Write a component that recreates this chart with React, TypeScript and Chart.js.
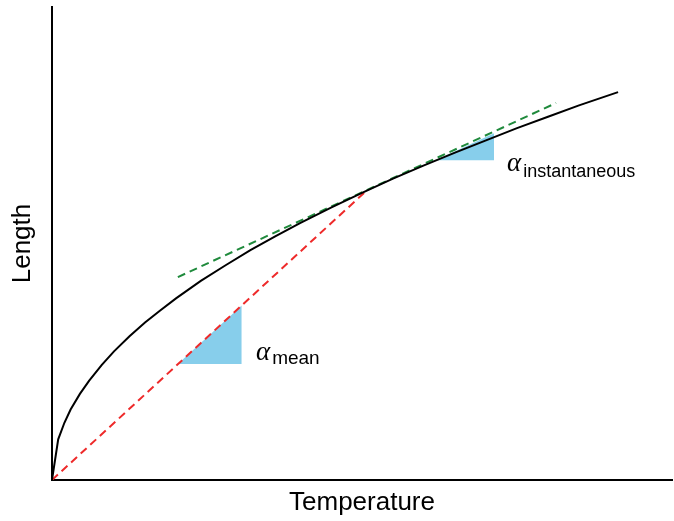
import React, { useEffect, useRef } from "react";
import { Chart, registerables } from "chart.js";

Chart.register(...registerables);

// Expansion curve (Temperature vs Length)
const curveX = [0, 0.1, 0.2, 0.3, 0.45, 0.6, 0.8, 1, 1.25, 1.5, 1.75, 2, 2.4, 2.8, 3.2, 3.6, 4, 4.5, 5, 5.5, 6, 6.5, 7, 7.5, 8, 8.5, 9.13];
const curveY = [0, 0.86, 1.21, 1.49, 1.82, 2.1, 2.43, 2.72, 3.04, 3.33, 3.59, 3.84, 4.21, 4.54, 4.86, 5.15, 5.43, 5.76, 6.07, 6.37, 6.65, 6.92, 7.18, 7.44, 7.68, 7.92, 8.2];

// Secant (mean) line from origin to the curve point
const meanX = [0, 5.05];
const meanY = [0, 6.09];

// Tangent (instantaneous) line
const tangentX = [2.03, 8.13];
const tangentY = [4.29, 7.97];

// Slope triangles: hypotenuse end points and base level
const meanTriX = [2.03, 3.06];
const meanTriY = [2.45, 3.69];
const meanTriBase = 2.45;
const instTriX = [6.19, 7.13];
const instTriY = [6.76, 7.33];
const instTriBase = 6.76;

// Annotation labels (anchor in data units)
const labelMain = ["\u03b1", "\u03b1"];
const labelSub = ["mean", "instantaneous"];
const labelX = [3.29, 7.34];
const labelY = [2.54, 6.53];

const xTitle = "Temperature";
const yTitle = "Length";

const toPts = (xs: number[], ys: number[]) => xs.map((x, i) => ({ x, y: ys[i] }));

const labelPlugin = {
  id: "alphaLabels",
  afterDatasetsDraw(chart: any) {
    const { ctx, scales } = chart;
    ctx.save();
    ctx.fillStyle = "#000";
    ctx.textBaseline = "alphabetic";
    ctx.textAlign = "left";
    const subSize = [19, 18];
    const subDrop = [4, 6];
    for (let i = 0; i < labelMain.length; i++) {
      const px = scales.x.getPixelForValue(labelX[i]);
      const py = scales.y.getPixelForValue(labelY[i]);
      ctx.font = "italic 27px 'Liberation Serif'";
      ctx.fillText(labelMain[i], px, py);
      const w = ctx.measureText(labelMain[i]).width;
      ctx.font = `${subSize[i]}px 'Liberation Sans'`;
      ctx.fillText(labelSub[i], px + w + 2, py + subDrop[i]);
    }
    ctx.restore();
  },
};

export default function App() {
  const ref = useRef<HTMLCanvasElement | null>(null);

  useEffect(() => {
    if (!ref.current) return;
    const chart = new Chart(ref.current, {
      type: "line",
      data: {
        datasets: [
          {
            data: toPts(curveX, curveY),
            borderColor: "#000000",
            borderWidth: 2,
            pointRadius: 0,
            tension: 0,
            fill: false,
            order: 0,
          },
          {
            data: toPts(meanX, meanY),
            borderColor: "#ee2a2a",
            borderWidth: 2,
            borderDash: [8, 5],
            pointRadius: 0,
            fill: false,
            order: 1,
          },
          {
            data: toPts(tangentX, tangentY),
            borderColor: "#1f8a3c",
            borderWidth: 2,
            borderDash: [8, 5],
            pointRadius: 0,
            fill: false,
            order: 2,
          },
          {
            data: toPts(meanTriX, meanTriY),
            borderWidth: 0,
            borderColor: "rgba(0,0,0,0)",
            backgroundColor: "#87ceeb",
            pointRadius: 0,
            fill: { value: meanTriBase },
            order: 3,
          },
          {
            data: toPts(instTriX, instTriY),
            borderWidth: 0,
            borderColor: "rgba(0,0,0,0)",
            backgroundColor: "#87ceeb",
            pointRadius: 0,
            fill: { value: instTriBase },
            order: 3,
          },
        ],
      },
      options: {
        animation: false,
        responsive: false,
        devicePixelRatio: 1,
        layout: { padding: { top: 7, right: 2, left: 0, bottom: 0 } },
        plugins: {
          legend: { display: false },
          tooltip: { enabled: false },
        },
        scales: {
          x: {
            type: "linear",
            min: 0,
            max: 10,
            ticks: { display: false },
            grid: { display: false, drawTicks: false },
            border: { display: true, color: "#000", width: 2 },
            title: {
              display: true,
              text: xTitle,
              color: "#000",
              font: { family: "'Liberation Sans'", size: 26 },
              padding: { top: 0, bottom: 3 },
            },
            afterFit: (s: any) => {
              s.height = 41;
            },
          },
          y: {
            type: "linear",
            min: 0,
            max: 10,
            ticks: { display: false },
            grid: { display: false, drawTicks: false },
            border: { display: true, color: "#000", width: 2 },
            title: {
              display: true,
              text: yTitle,
              color: "#000",
              font: { family: "'Liberation Sans'", size: 26 },
              padding: { top: 7, bottom: 0 },
            },
            afterFit: (s: any) => {
              s.width = 52;
            },
          },
        },
      },
      plugins: [labelPlugin],
    });
    return () => chart.destroy();
  }, []);

  return (
    <div style={{ position: "absolute", left: 0, top: 0, width: 674, height: 521, background: "#fff" }}>
      <canvas ref={ref} width={674} height={521} style={{ display: "block" }} />
    </div>
  );
}
